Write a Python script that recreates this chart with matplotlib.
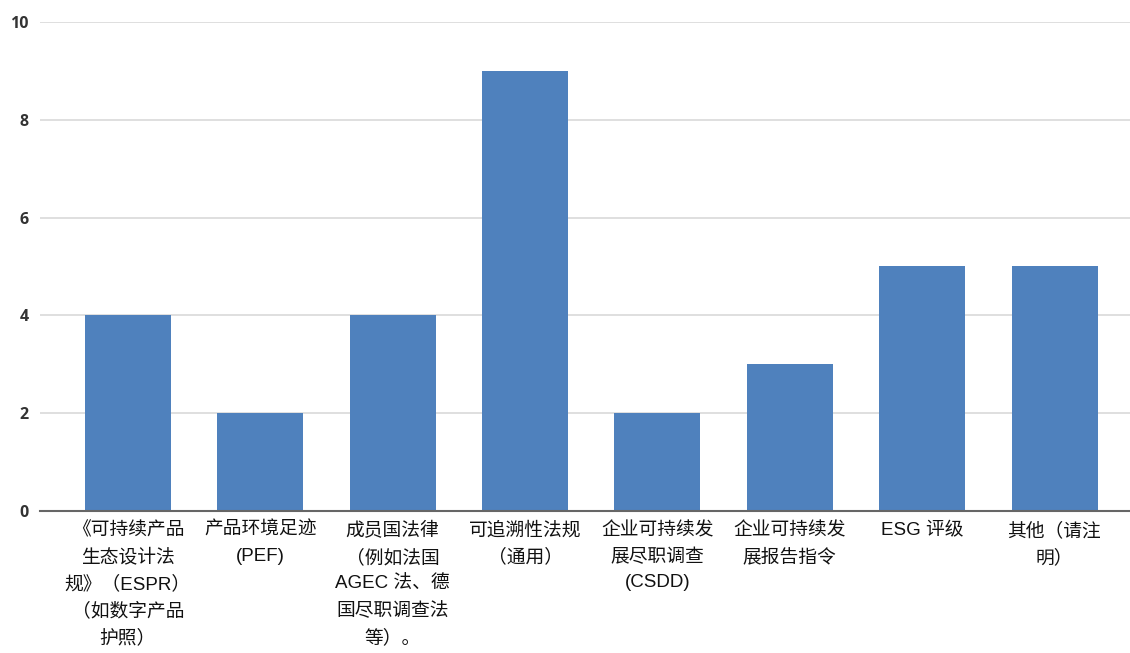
import matplotlib
matplotlib.use("Agg")
import matplotlib.pyplot as plt

categories = [
    "《可持续产品\n生态设计法\n规》（ESPR）\n（如数字产品\n护照）",
    "产品环境足迹\n(PEF)",
    "成员国法律\n（例如法国\nAGEC 法、德\n国尽职调查法\n等）。",
    "可追溯性法规\n（通用）",
    "企业可持续发\n展尽职调查\n(CSDD)",
    "企业可持续发\n展报告指令",
    "ESG 评级",
    "其他（请注\n明）",
]
values = [4, 2, 4, 9, 2, 3, 5, 5]
yticks = [0, 2, 4, 6, 8, 10]

fig = plt.figure(figsize=(11.3, 6.53), dpi=100)
ax = fig.add_axes([0.0354, 0.2175, 0.9646, 0.7488])

x = list(range(len(values)))
ax.bar(x, values, width=0.65, color="#4F81BD", zorder=3)

ax.set_xlim(-0.664, 7.57)
ax.set_ylim(0, 10)
ax.set_yticks(yticks)
ax.set_yticklabels([str(v) for v in yticks], fontsize=11.5, color="#333333",
                   family="Open Sans", fontweight="bold")
ax.yaxis.grid(True, color="#d9d9d9", linewidth=1.2, zorder=0)
ax.tick_params(axis="y", length=0, pad=8)
ax.tick_params(axis="x", length=0, pad=8)
for s in ["top", "right", "left"]:
    ax.spines[s].set_visible(False)
ax.spines["bottom"].set_color("#666666")
ax.spines["bottom"].set_linewidth(1.5)
ax.spines["bottom"].set_zorder(4)

ax.set_xticks(x)
ax.set_xticklabels(categories, fontsize=13.5, linespacing=1.66, color="#111111",
                   family=["Liberation Sans", "Noto Sans CJK SC"], va="top", ha="center")

fig.savefig("out.png", dpi=100)
